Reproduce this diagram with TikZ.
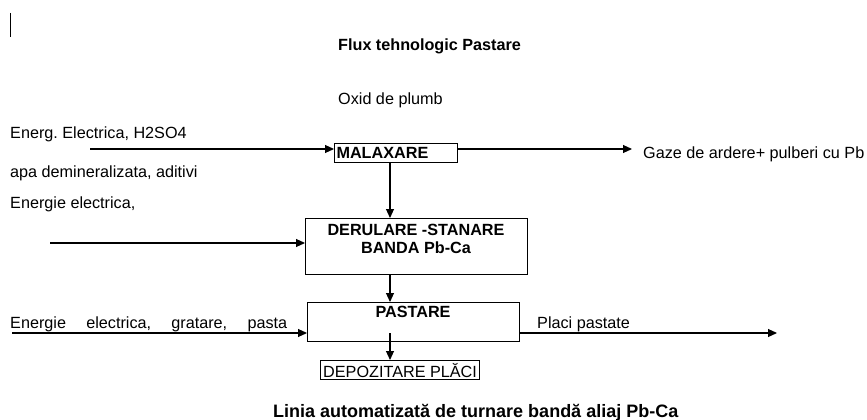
\documentclass[tikz,border=0pt]{standalone}
\usepackage{fontspec}
\setmainfont{Liberation Sans}
\usetikzlibrary{arrows.meta}
\frenchspacing
\begin{document}
\begin{tikzpicture}[x=1pt,y=-1pt,
  every node/.style={font=\fontsize{16.2}{19}\selectfont, text=black},
  txt/.style={anchor=base west, inner sep=0pt},
  boldtxt/.style={anchor=base west, inner sep=0pt, font=\fontsize{16.2}{19}\selectfont\bfseries},
  procbox/.style={draw=black, line width=1.1pt, inner sep=2pt},
  arr/.style={draw=black, line width=1.1pt, -{Triangle[length=9pt,width=8pt]}}]
\useasboundingbox (0,0) rectangle (867,420);
% cursor mark
\draw[line width=1pt] (10,13) -- (10,37);
% texts
\node[boldtxt] (title) at (338,51) {Flux tehnologic Pastare};
\node[txt] (oxid) at (338,104) {Oxid de plumb};
\node[txt] (t1) at (10,138) {Energ.\ Electrica, H2SO4};
\node[txt] (t2) at (10,177) {apa demineralizata, aditivi};
\node[txt] (t3) at (10,208) {Energie electrica,};
\node[txt] (gaze) at (643,158) {Gaze de ardere+ pulberi cu Pb};
\node[txt] (t4) at (10,328) {\makebox[277pt][s]{Energie electrica, gratare, pasta}};
\node[txt] (placi) at (537,328) {Placi pastate};
\node[boldtxt, font=\fontsize{18}{21}\selectfont\bfseries] (caption) at (273,417) {Linia automatizată de turnare bandă aliaj Pb-Ca};
% boxes
\node[procbox, anchor=north west, minimum width=123pt, minimum height=19pt,
      text width=119pt, align=left, font=\fontsize{16.2}{19}\selectfont\bfseries] (mal) at (334,143) {MALAXARE};
\node[procbox, anchor=north west, minimum width=222pt, minimum height=56pt] (der) at (305,218) {};
\node[anchor=base, inner sep=0pt, align=center, font=\fontsize{16.2}{18}\selectfont\bfseries] (derlbl) at (416,253) {DERULARE -STANARE\\BANDA Pb-Ca};
\node[procbox, anchor=north west, minimum width=212pt, minimum height=39pt] (pas) at (307,302) {};
\node[anchor=base, inner sep=0pt, font=\fontsize{16.2}{19}\selectfont\bfseries] (paslbl) at (413,317) {PASTARE};
\node[procbox, anchor=north west, minimum width=159pt, minimum height=19pt, inner sep=1pt] (dep) at (320,360) {DEPOZITARE PLĂCI};
% coordinates
\coordinate (e1) at (90,149);
\coordinate (gout) at (632,149);
\coordinate (vx) at (390,0);
\coordinate (e3) at (50,243);
\coordinate (e4) at (12,333);
\coordinate (pout) at (777,333);
% connectors
\draw[arr] (e1) -- (e1 -| mal.west);
\draw[arr] (e1 -| mal.east) -- (gout);
\draw[arr] (vx |- mal.south) -- (vx |- der.north);
\draw[arr] (e3) -- (e3 -| der.west);
\draw[arr] (vx |- der.south) -- (vx |- pas.north);
\draw[arr] (e4) -- (e4 -| pas.west);
\draw[arr] (e4 -| pas.east) -- (pout);
\draw[arr] (vx |- e4) -- (vx |- dep.north);
\end{tikzpicture}
\end{document}
